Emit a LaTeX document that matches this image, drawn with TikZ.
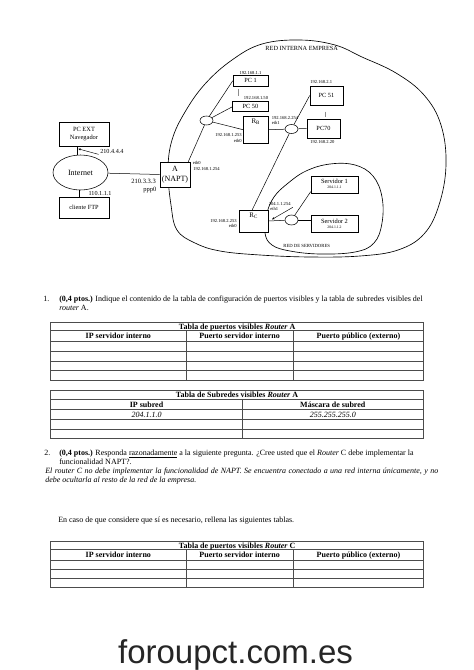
\documentclass[tikz,border=0pt]{standalone}
\usepackage{fontspec}
\setmainfont{Liberation Serif}
\newfontfamily\arialf{Liberation Sans}
\usetikzlibrary{shapes.geometric,arrows.meta,calc}
\newcommand{\myfs}[1]{\fontsize{#1}{#1}\selectfont}
\begin{document}
\begin{tikzpicture}[x=1pt,y=-1pt,
  line width=0.5pt,
  box/.style={draw,fill=white,inner sep=0pt,line width=0.55pt},
  sw/.style={draw,fill=white,ellipse,inner sep=0pt,minimum width=13pt,minimum height=9pt,line width=0.55pt},
  ip/.style={inner sep=0pt,font=\myfs{4.6}},
  pc/.style={font=\myfs{6.3}},
  blob/.style={line width=0.65pt},
  tb/.style={line width=0.7pt,draw=black!70},
  body/.style={inner sep=0pt,anchor=base west,font=\myfs{8}},
  th/.style={inner sep=0pt,anchor=base,font=\myfs{8}\bfseries},
  td/.style={inner sep=0pt,anchor=base,font=\myfs{8}\itshape},
  vdots/.style={line width=0.35pt,black!45},
  ptr/.style={line width=0.45pt,-{Latex[length=2.6pt,width=2.2pt]}},
]
\fill[white] (0,0) rectangle (474,670);
\useasboundingbox (0,0) rectangle (474,670);

% ---------- regions ----------
\draw[blob] plot[smooth cycle,tension=0.65] coordinates {
 (177,230) (195,243) (220,251) (260,255) (310,257) (360,256) (398,250)
 (424,234) (439,205) (446,165) (441,125) (424,95) (396,73) (362,57)
 (335,45) (300,40) (262,44) (232,60) (205,84) (185,112) (172,140)
 (168,170) (171,205)};
\draw[blob] plot[smooth cycle,tension=0.65] coordinates {
 (265,233) (267,213) (274,197) (287,184) (306,171) (330,164) (355,165)
 (373,176) (382,197) (382,223) (374,243) (355,252) (320,254) (290,251) (272,245)};
\node[inner sep=0pt,anchor=base,font=\myfs{6.3}] (redint) at (301.7,50.5) {RED INTERNA EMPRESA};
\node[inner sep=0pt,anchor=base,font=\myfs{4.7}] (redserv) at (306.7,247.3) {RED DE SERVIDORES};

% ---------- nodes ----------
\node[box,pc,minimum width=50pt,minimum height=24pt,align=center,font=\fontsize{6.4}{7.7}\selectfont] (pcext) at (84,134) {PC EXT\\Navegador};
\node[box,pc,minimum width=50pt,minimum height=21pt] (ftp) at (84,207.5) {cliente FTP};
\node[draw,fill=white,ellipse,inner sep=0pt,minimum width=55pt,minimum height=35pt,line width=0.55pt,font=\myfs{8}] (internet) at (80.5,172.5) {Internet};
\node[box,minimum width=30pt,minimum height=25pt,align=center,font=\fontsize{8}{10}\selectfont] (A) at (175,174.5) {A\\(NAPT)};

\node[box,pc,minimum width=35pt,minimum height=10.5pt] (pc1) at (250.5,80.75) {PC 1};
\node[box,pc,minimum width=35.5pt,minimum height=10pt] (pc50) at (250.5,106.7) {PC 50};
\node[box,minimum width=25pt,minimum height=27pt] (rb) at (255.8,129.7) {};
\node[inner sep=0pt,anchor=north,font=\myfs{7}] (rblbl) at ([yshift=-2.5pt]rb.north) {R\textsubscript{B}};
\node[box,pc,minimum width=33pt,minimum height=19pt] (pc51) at (326.5,95.5) {PC 51};
\node[box,pc,minimum width=33pt,minimum height=19pt] (pc70) at (323.5,128.5) {PC70};
\node[box,minimum width=28.5pt,minimum height=22pt] (rc) at (253.75,221) {};
\node[inner sep=0pt,anchor=north,font=\myfs{7}] (rclbl) at ([yshift=-2.5pt]rc.north) {R\textsubscript{C}};
\node[box,minimum width=47pt,minimum height=17.3pt] (serv1) at (334.5,184.7) {};
\node[box,minimum width=47pt,minimum height=17.5pt] (serv2) at (334.5,223.75) {};
\node[inner sep=0pt,anchor=base,font=\myfs{6.4}] (s1name) at (334.5,183.9) {Servidor 1};
\node[inner sep=0pt,anchor=base,font=\myfs{3.8}] (s1ip) at (334.5,188.8) {204.1.1.1};
\node[inner sep=0pt,anchor=base,font=\myfs{6.4}] (s2name) at (334.5,223.4) {Servidor 2};
\node[inner sep=0pt,anchor=base,font=\myfs{3.8}] (s2ip) at (334.5,228.6) {204.1.1.2};

\node[sw] (sw1) at (206.5,120.5) {};
\node[sw] (sw2) at (291.5,129) {};
\node[sw,minimum height=10pt] (sw3) at (291.5,220) {};

% ---------- links ----------
\draw ([xshift=-7pt]pcext.south) -- ([xshift=-7pt]pcext.south |- internet.north);
\draw ([xshift=-1.5pt]internet.south) -- ([xshift=-1.5pt]internet.south |- ftp.north);
\draw (A.west) -- (internet);
\draw ([xshift=-2pt]A.north east) -- (sw1);
\draw (sw1) -- (pc1.west);
\draw (sw1) -- (pc50.west);
\draw (sw1) -- (rb.west);
\draw (rb.east) -- (sw2);
\draw (sw2) -- (pc51.west);
\draw (sw2) -- (pc70.west);
\draw (sw2) -- ([xshift=-1.5pt]rc.north);
\draw (rc.east) -- (sw3);
\draw (sw3) -- ([yshift=2pt]serv1.south west);
\draw (sw3.east) -- (sw3.east -| serv2.west);

\draw[vdots] (238.3,89.3) -- (238.3,95.5);
\draw[vdots] (325,111.7) -- (325,116.5);

% ---------- labels ----------
\node[ip,anchor=base] (ippc1) at (250.5,74.1) {192.168.1.1};
\node[ip,anchor=base east] (ippc50) at (268.3,99.1) {192.168.1.50};
\node[ip,anchor=base east] (iprb0) at (242,136.6) {192.168.1.253};
\node[ip,anchor=base east] (ethrb0) at (242,142.3) {eth0};
\node[ip,anchor=base west] (iprb1) at (271.5,119.9) {192.168.2.254};
\node[ip,anchor=base west] (ethrb1) at (271.5,124.7) {eth1};
\node[ip,anchor=base west] (ippc51) at (310,83.3) {192.168.2.1};
\node[ip,anchor=base west] (ippc70) at (310,143.6) {192.168.2.20};
\node[ip,anchor=base west] (etha0) at (192.5,164.3) {eth0};
\node[ip,anchor=base west] (ipa0) at (193,170) {192.168.1.254};
\node[inner sep=0pt,anchor=base east,font=\myfs{6.5}] (ipa1) at (156,183.2) {210.3.3.3};
\node[inner sep=0pt,anchor=base east,font=\myfs{6.5}] (ppp) at (156.5,191.5) {ppp0};
\node[inner sep=0pt,anchor=base west,font=\myfs{6.2}] (ipftp) at (88.3,195.4) {110.1.1.1};
\node[inner sep=0pt,anchor=base west,font=\myfs{6.2}] (ipext) at (100,153) {210.4.4.4};
\node[ip,anchor=base east] (iprc0) at (237,222.6) {192.168.2.253};
\node[ip,anchor=base east] (ethrc0) at (237,227.8) {eth0};
\node[ip,anchor=base west] (iprc1) at (268.5,205) {204.1.1.254};
\node[ip,anchor=base west] (ethrc1) at (270,210) {eth1};

\coordinate (extport) at ([xshift=-6pt,yshift=-2.5pt]pcext.south);
\draw[ptr] ([xshift=-1.5pt,yshift=-1pt]ipext.south west) -- (extport);
\coordinate (rcport) at ([xshift=3.5pt,yshift=1.5pt]rc.east);
\draw[ptr] ([xshift=2pt,yshift=-2pt]iprc1.south east) -- (rcport);

% ---------- question 1 ----------
\node[body] (q1n) at (43,301.5) {1.};
\node[body] (q1a) at (59,301.5) {\textbf{(0,4 ptos.)} Indique el contenido de la tabla de configuración de puertos visibles y la tabla de subredes visibles del};
\node[body] (q1b) at (59,310.5) {\textit{router} A.};

% table 1
\draw[tb] (50.7,322.7) rectangle (423.7,380.3);
\foreach \y in {330.3,341.7,351.7,361.2,370.7} \draw[tb] (50.7,\y) -- (423.7,\y);
\foreach \x in {186,293.3} \draw[tb] (\x,330.3) -- (\x,380.3);
\node[th] (t1t) at (237.2,329.1) {Tabla de puertos visibles \textit{Router} A};
\node[th] (t1h1) at (118.3,338.6) {IP servidor interno};
\node[th] (t1h2) at (239.7,338.6) {Puerto servidor interno};
\node[th] (t1h3) at (358.5,338.6) {Puerto público (externo)};

% table 2
\draw[tb] (50.7,390) rectangle (423.3,438.3);
\foreach \y in {399.3,409.3,419.3,429} \draw[tb] (50.7,\y) -- (423.3,\y);
\draw[tb] (242.3,399.3) -- (242.3,438.3);
\node[th] (t2t) at (237,397.2) {Tabla de Subredes visibles \textit{Router} A};
\node[th] (t2h1) at (146.5,407) {IP subred};
\node[th] (t2h2) at (332.8,407) {Máscara de subred};
\node[td] (t2d1) at (146.5,417) {204.1.1.0};
\node[td] (t2d2) at (332.8,417) {255.255.255.0};

% ---------- question 2 ----------
\node[body] (q2n) at (44,455.8) {2.};
\node[body] (q2a) at (59,455.8) {\textbf{(0,4 ptos.)} Responda \underline{razonadamente} a la siguiente pregunta. ¿Cree usted que el \textit{Router} C debe implementar la};
\node[body] (q2b) at (59,464.6) {funcionalidad NAPT?.};
\node[body,font=\myfs{8}\itshape] (q2c) at (45,473.4) {\makebox[393pt][s]{El router C no debe implementar la funcionalidad de NAPT. Se encuentra conectado a una red interna únicamente, y no}};
\node[body,font=\myfs{8}\itshape] (q2d) at (45,482.2) {debe ocultarla al resto de la red de la empresa.};

\node[body] (q3) at (58,522.6) {En caso de que considere que sí es necesario, rellena las siguientes tablas.};

% table 3
\draw[tb] (50.7,541.7) rectangle (423.7,587.3);
\foreach \y in {549.3,560,569.3,578.3} \draw[tb] (50.7,\y) -- (423.7,\y);
\foreach \x in {186,293.3} \draw[tb] (\x,549.3) -- (\x,587.3);
\node[th] (t3t) at (237.2,548) {Tabla de puertos visibles \textit{Router} C};
\node[th] (t3h1) at (118.3,557.3) {IP servidor interno};
\node[th] (t3h2) at (239.7,557.3) {Puerto servidor interno};
\node[th] (t3h3) at (358.5,557.3) {Puerto público (externo)};

% ---------- footer ----------
\node[inner sep=0pt,anchor=base,font=\arialf\myfs{33},text=black!85] (footer) at (235.5,663) {foroupct.com.es};
\end{tikzpicture}
\end{document}
